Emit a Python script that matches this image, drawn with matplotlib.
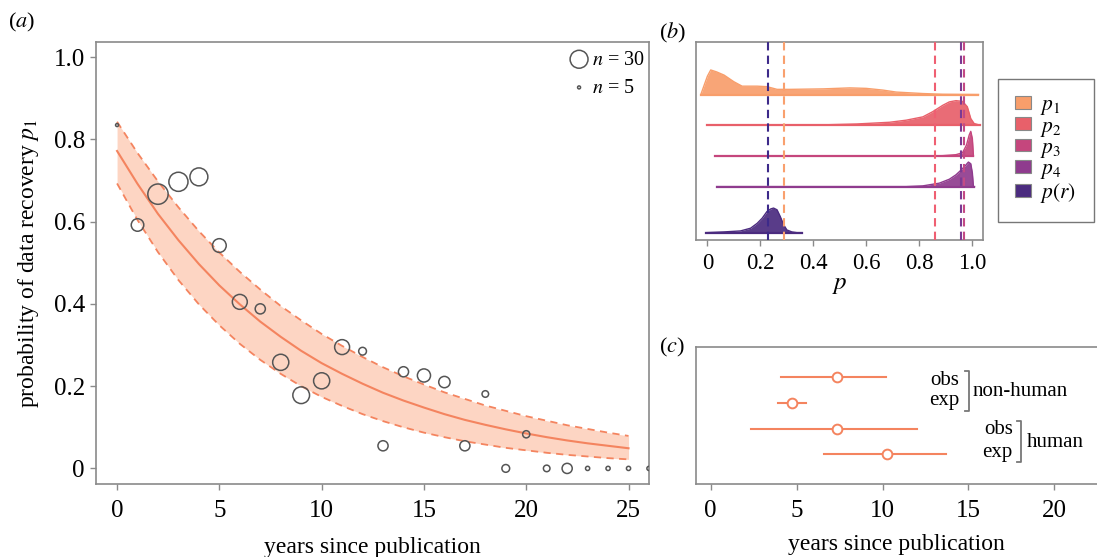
import numpy as np
import matplotlib.pyplot as plt
from matplotlib.patches import Patch

plt.rcParams['font.family'] = ['Liberation Serif', 'DejaVu Serif']
plt.rcParams['mathtext.fontset'] = 'stix'

# ---- (a) observed recovery per year since publication
years = [0, 1, 2, 3, 4, 5, 6, 7, 8, 9, 10, 11, 12, 13, 14, 15, 16, 17, 18, 19, 20, 21, 22, 23, 24, 25, 26]
p_obs = [0.835, 0.592, 0.667, 0.697, 0.709, 0.542, 0.405, 0.388, 0.258, 0.178, 0.213, 0.295, 0.285,
         0.055, 0.235, 0.226, 0.21, 0.055, 0.181, 0.0, 0.083, 0.0, 0.0, 0.0, 0.0, 0.0, 0.0]
n_obs = [5, 21, 34, 32, 30, 23, 25, 17, 27, 28, 27, 25, 13, 17, 17, 22, 19, 17, 11, 13, 12, 11, 17, 7, 7, 7, 7]

fit_years = list(range(26))
fit_mid = [0.772, 0.692, 0.619, 0.555, 0.497, 0.445, 0.399, 0.357, 0.320, 0.286, 0.256, 0.230, 0.206,
           0.184, 0.165, 0.148, 0.132, 0.118, 0.106, 0.095, 0.085, 0.076, 0.068, 0.061, 0.055, 0.049]
fit_hi = [0.843, 0.767, 0.698, 0.635, 0.577, 0.525, 0.478, 0.435, 0.395, 0.360, 0.327, 0.298, 0.271,
          0.246, 0.224, 0.204, 0.185, 0.169, 0.153, 0.140, 0.127, 0.116, 0.105, 0.096, 0.087, 0.079]
fit_lo = [0.693, 0.604, 0.526, 0.458, 0.399, 0.348, 0.303, 0.264, 0.230, 0.200, 0.174, 0.152, 0.132,
          0.115, 0.100, 0.087, 0.076, 0.066, 0.058, 0.050, 0.044, 0.038, 0.033, 0.029, 0.025, 0.022]

# ---- (b) posterior densities (relative height)
p1_x = [-0.025, 0.0, 0.0125, 0.035, 0.063, 0.1, 0.131, 0.188, 0.225, 0.263, 0.313, 0.438, 0.538, 0.6, 0.663, 0.713, 0.814, 0.889, 1.024]
p1_h = [0.0, 0.75, 1.0, 0.92, 0.79, 0.52, 0.34, 0.34, 0.32, 0.21, 0.21, 0.23, 0.27, 0.25, 0.18, 0.10, 0.04, 0.01, 0.0]
p2_x = [0.0, 0.3, 0.438, 0.563, 0.688, 0.751, 0.814, 0.851, 0.889, 0.914, 0.939, 0.964, 0.982, 0.995, 1.0075, 1.03]
p2_h = [0.0, 0.005, 0.015, 0.05, 0.12, 0.205, 0.34, 0.55, 0.81, 0.95, 1.0, 0.97, 0.75, 0.27, 0.07, 0.0]
p3_x = [0.029, 0.85, 0.889, 0.939, 0.964, 0.979, 0.989, 0.995, 1.001, 1.005]
p3_h = [0.0, 0.0, 0.01, 0.05, 0.13, 0.45, 0.85, 1.0, 0.7, 0.0]
p4_x = [0.035, 0.75, 0.814, 0.876, 0.914, 0.939, 0.957, 0.974, 0.986, 0.995, 1.001, 1.005, 1.009]
p4_h = [0.0, 0.0, 0.03, 0.14, 0.30, 0.48, 0.66, 0.85, 1.0, 0.93, 0.55, 0.0, 0.0]
pr_x = [-0.006, 0.063, 0.125, 0.163, 0.188, 0.207, 0.225, 0.24, 0.25, 0.263, 0.275, 0.288, 0.3, 0.319, 0.338, 0.357]
pr_h = [0.0, 0.03, 0.07, 0.18, 0.38, 0.59, 0.86, 0.97, 1.0, 0.93, 0.66, 0.32, 0.11, 0.03, 0.0, 0.0]
dens_labels = ['$p_1$', '$p_2$', '$p_3$', '$p_4$', '$p(r)$']
dens_means = [0.29, 0.861, 0.97, 0.957, 0.23]

# ---- (c) time to data loss
grp_mid = [7.33, 4.75, 7.37, 10.28]
grp_lo = [4.07, 3.9, 2.35, 6.61]
grp_hi = [10.19, 5.55, 12.01, 13.7]

fig = plt.figure(figsize=(10.97, 5.57), dpi=100)
axa = fig.add_axes([0.0875, 0.131, 0.5041, 0.7936])
axb = fig.add_axes([0.6345, 0.5691, 0.2613, 0.356])
axc = fig.add_axes([0.6342, 0.1305, 0.3777, 0.246])

frame_col = '#8a8a8a'
line_col = '#F4845F'

def frame(ax):
    for s in ax.spines.values():
        s.set_color(frame_col)
        s.set_linewidth(1.2)
    ax.tick_params(colors=frame_col, labelcolor='black', length=4.5, width=1.0)

# (a)
axa.fill_between(fit_years, fit_lo, fit_hi, color='#FDD5C3', lw=0)
axa.plot(fit_years, fit_mid, color=line_col, lw=1.5)
axa.plot(fit_years, fit_hi, color=line_col, lw=1.3, ls=(0, (4, 3)))
axa.plot(fit_years, fit_lo, color=line_col, lw=1.3, ls=(0, (4, 3)))
sizes = [(0.43 * n) ** 2 for n in n_obs]
axa.scatter(years, p_obs, s=sizes, facecolors='none', edgecolors='#555555', linewidths=1.1, zorder=3)
h30 = axa.scatter([], [], s=(0.43 * 30) ** 2, facecolors='none', edgecolors='#555555', linewidths=1.1)
h5 = axa.scatter([], [], s=(0.43 * 5) ** 2, facecolors='none', edgecolors='#555555', linewidths=1.1)
axa.legend([h30, h5], ['$n$ = 30', '$n$ = 5'], loc='upper right', frameon=False, fontsize=14.5,
           handlelength=1.0, handletextpad=0.15, labelspacing=0.45, borderaxespad=0.0, borderpad=0.2,
           bbox_to_anchor=(1.0, 0.99))
axa.set_xlim(-1.03, 26.0)
axa.set_ylim(-0.038, 1.037)
axa.set_xticks([0, 5, 10, 15, 20, 25])
axa.set_yticks([0, 0.2, 0.4, 0.6, 0.8, 1.0])
axa.set_yticklabels(['0', '0.2', '0.4', '0.6', '0.8', '1.0'])
axa.tick_params(labelsize=18)
axa.tick_params(axis='x', pad=7)
axa.set_xlabel('years since publication', fontsize=17, labelpad=11)
axa.set_ylabel('probability of data recovery $p_1$', fontsize=17, labelpad=9)
frame(axa)

# (b)
dens_cols = ['#F89E6B', '#E8606A', '#C5467D', '#8F3B8E', '#4B2B7F']
vline_cols = ['#F9A06E', '#EF5F72', '#C34A85', '#7B3A93', '#3D2A8A']
bases = [4.5, 3.5, 2.5, 1.5, 0.0]
xs = [p1_x, p2_x, p3_x, p4_x, pr_x]
hs = [p1_h, p2_h, p3_h, p4_h, pr_h]
for x, h, b, c in zip(xs, hs, bases, dens_cols):
    top = [b + 0.8 * v for v in h]
    axb.fill_between(x, b, top, color=c, alpha=0.92, lw=0)
    axb.plot(x, top, color=c, lw=1.0)
    axb.plot([x[0], x[-1]], [b, b], color=c, lw=1.6)
for m, c in zip(dens_means, vline_cols):
    axb.axvline(m, color=c, lw=1.5, ls=(0, (4, 2.5)), zorder=4)
axb.set_xlim(-0.043, 1.04)
axb.set_ylim(-0.24, 6.22)
axb.set_yticks([])
axb.set_xticks([0, 0.2, 0.4, 0.6, 0.8, 1.0])
axb.set_xticklabels(['0', '0.2', '0.4', '0.6', '0.8', '1.0'])
axb.tick_params(labelsize=16.5, pad=5)
axb.set_xlabel('$p$', fontsize=18, labelpad=0)
frame(axb)
handles = [Patch(facecolor=c, edgecolor='#888888', lw=0.8) for c in dens_cols]
fig.legend(handles, dens_labels, loc='upper left', bbox_to_anchor=(0.910, 0.858), fontsize=15.5,
           frameon=True, fancybox=False, edgecolor='#777777', framealpha=1,
           handlelength=0.7, handleheight=0.55, handletextpad=0.45, labelspacing=0.0,
           borderpad=0.8, borderaxespad=0.0)

# (c)
rows = [4, 3, 2, 1]
for m, lo, hi, r in zip(grp_mid, grp_lo, grp_hi, rows):
    axc.plot([lo, hi], [r, r], color=line_col, lw=1.5)
    axc.plot(m, r, 'o', mfc='white', mec=line_col, mew=1.4, ms=7)
axc.text(14.47, 3.86, 'obs', ha='right', va='center', fontsize=15)
axc.text(14.47, 3.08, 'exp', ha='right', va='center', fontsize=15)
axc.plot([14.8, 15.03, 15.03, 14.8], [4.26, 4.26, 2.70, 2.70], color='#777777', lw=1.3)
axc.text(15.25, 3.44, 'non-human', ha='left', va='center', fontsize=15)
axc.text(17.58, 1.95, 'obs', ha='right', va='center', fontsize=15)
axc.text(17.58, 1.09, 'exp', ha='right', va='center', fontsize=15)
axc.plot([17.81, 18.04, 18.04, 17.81], [2.30, 2.30, 0.69, 0.69], color='#777777', lw=1.3)
axc.text(18.39, 1.46, 'human', ha='left', va='center', fontsize=15)
axc.set_xlim(-0.87, 23.24)
axc.set_ylim(-0.167, 5.167)
axc.set_yticks([])
axc.set_xticks([0, 5, 10, 15, 20])
axc.tick_params(labelsize=18, pad=7)
axc.set_xlabel('years since publication', fontsize=17)
axc.xaxis.set_label_coords(0.485, -0.36)
frame(axc)

fig.text(8 / 1097, 1 - 22 / 557, '($a$)', fontsize=16, ha='left', va='center')
fig.text(659 / 1097, 1 - 33 / 557, '($b$)', fontsize=16, ha='left', va='center')
fig.text(659 / 1097, 1 - 347 / 557, '($c$)', fontsize=16, ha='left', va='center')

fig.savefig('out.png', dpi=100)
